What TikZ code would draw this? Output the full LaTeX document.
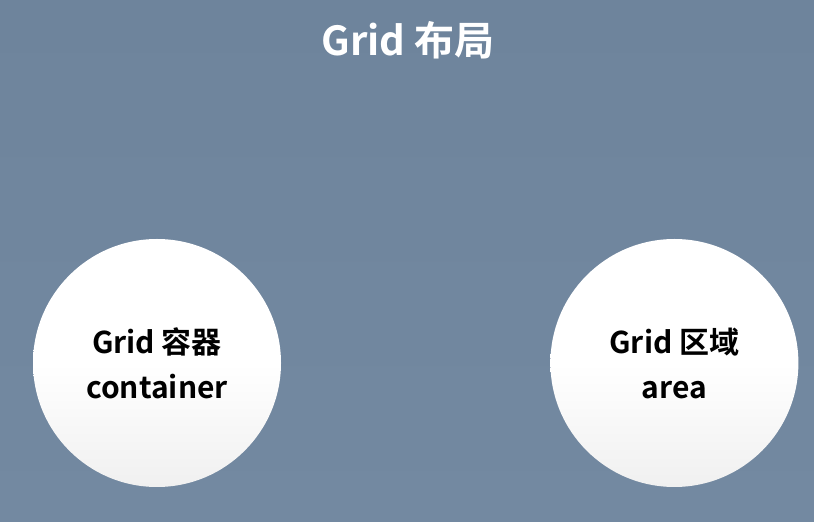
\documentclass[tikz,border=0pt]{standalone}
\usepackage{fontspec}
\setmainfont{Noto Sans CJK SC Bold}
\usetikzlibrary{positioning}
\definecolor{slate}{HTML}{6E849C}
\definecolor{slatelow}{HTML}{7389A1}
\definecolor{ballshade}{HTML}{F0F0F0}

\begin{document}
\begin{tikzpicture}[x=1pt,y=1pt]
%define
\tikzstyle{ball} = [circle, minimum size=248pt, inner sep=0pt, top color=white, bottom color=ballshade, middle color=white, text=black, align=center, font=\fontsize{30}{45}\selectfont]
\tikzstyle{heading} = [text=white, font=\fontsize{40}{48}\selectfont]

%background
\shade[top color=slate, bottom color=slatelow](0,0)rectangle(814,522);
\useasboundingbox(0,0)rectangle(814,522);

\node[heading](title) at (408,482){Grid 布局};
\node[ball](container) at (157,159){Grid 容器\\container};
\node[ball, right = 269pt of container](area){Grid 区域\\area};

\end{tikzpicture}
\end{document}
